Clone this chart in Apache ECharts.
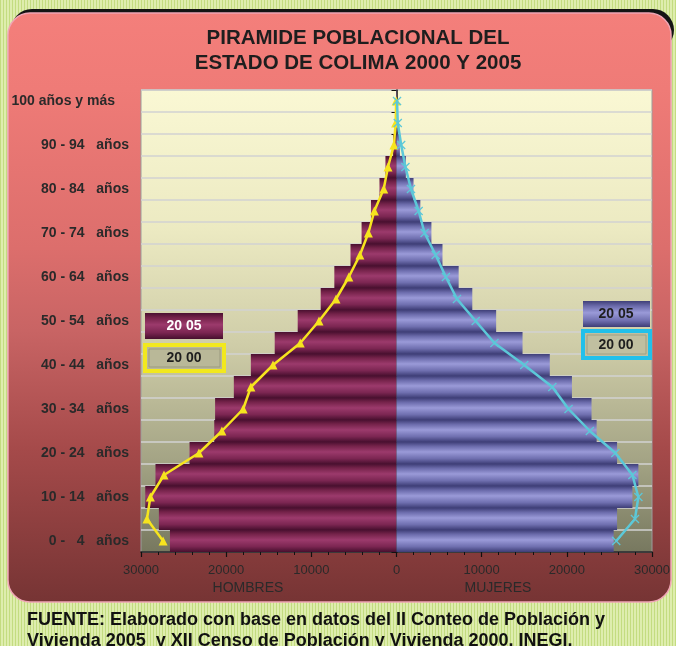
<!DOCTYPE html>
<html>
<head>
<meta charset="utf-8">
<script src="https://cdn.jsdelivr.net/npm/echarts@6/dist/echarts.min.js"></script>
<style>
html,body{margin:0;padding:0;width:676px;height:646px;overflow:hidden;
background:repeating-linear-gradient(90deg,#c3dc80 0px,#c3dc80 1px,#deedae 1px,#deedae 3px);}
#chart{width:676px;height:646px;}
</style>
</head>
<body>
<div id="chart"></div>
<script>
// ---- data ----
var categories = ['0 -   4   años','5 -   9   años','10 - 14   años','15 - 19   años','20 - 24   años',
  '25 - 29   años','30 - 34   años','35 - 39   años','40 - 44   años','45 - 49   años','50 - 54   años',
  '55 - 59   años','60 - 64   años','65 - 69   años','70 - 74   años','75 - 79   años','80 - 84   años',
  '85 - 89   años','90 - 94   años','95 - 99   años','100 años y más'];
var hombres2005 = [26600,27900,29500,28300,24300,21400,21300,19100,17100,14300,11600,8900,7300,5400,4100,3000,2000,1300,400,100,30];
var mujeres2005 = [25500,25900,27700,28400,25900,23500,22900,20600,18000,14800,11700,8900,7300,5400,4100,2800,2000,1100,400,120,40];
var hombres2000 = [27400,29300,28900,27300,23200,20500,18000,17100,14500,11300,9100,7100,5600,4300,3300,2600,1500,1000,300,100,40];
var mujeres2000 = [25800,28000,28400,27700,25700,22700,20200,18300,15000,11500,9300,7100,5800,4600,3300,2600,1700,1050,550,150,60];
var xTickLabels = {'-30000':'30000','-20000':'20000','-10000':'10000','0':'0','10000':'10000','20000':'20000','30000':'30000'};
var titleLines = ['PIRAMIDE POBLACIONAL DEL','ESTADO DE COLIMA 2000 Y 2005'];
var axisNames = ['HOMBRES','MUJERES'];
var legendLabels = ['20 05','20 00'];
var sourceLines = ['FUENTE: Elaborado con base en datos del II Conteo de Población y',
  'Vivienda 2005  y XII Censo de Población y Vivienda 2000. INEGI.'];

var chart = echarts.init(document.getElementById('chart'));
var FONT = '"Liberation Sans", Arial, sans-serif';
function vgrad(stops){return {type:'linear',x:0,y:0,x2:0,y2:1,colorStops:stops.map(function(s){return {offset:s[0],color:s[1]};})};}
var maroon = vgrad([[0,'#4a1030'],[0.18,'#742249'],[0.45,'#9c3a6c'],[0.75,'#7c2652'],[1,'#470f2e']]);
var lavender = vgrad([[0,'#3f3f78'],[0.2,'#6c6cac'],[0.45,'#9a9ad8'],[0.75,'#7070b0'],[1,'#3d3d76']]);
var xMark = 'path://M0,1L1,0L5,4L9,0L10,1L6,5L10,9L9,10L5,6L1,10L0,9L4,5Z';

var option = {
  backgroundColor: 'transparent',
  animation: false,
  graphic: [
    {type:'rect', z:-20, shape:{x:11,y:9,width:663,height:42,r:22}, style:{fill:'#141414'}},
    {type:'rect', z:-19, shape:{x:8,y:13,width:663,height:589,r:22},
      style:{fill:{type:'linear',x:0,y:0,x2:0,y2:1,colorStops:[
        {offset:0,color:'#f47f7b'},{offset:0.13,color:'#ef7b77'},{offset:0.4,color:'#dc6e6c'},
        {offset:0.54,color:'#c86464'},{offset:0.74,color:'#a54a4a'},{offset:1,color:'#763434'}]},
        stroke:'#f0a4b4', lineWidth:1.5}},
    {type:'text', z:10, x:358, y:38, style:{text:titleLines[0], font:'bold 20.5px '+FONT, fill:'#1e1e1e', textAlign:'center', textVerticalAlign:'middle'}},
    {type:'text', z:10, x:358, y:63, style:{text:titleLines[1], font:'bold 20.5px '+FONT, fill:'#1e1e1e', textAlign:'center', textVerticalAlign:'middle'}},
    {type:'text', z:10, x:248, y:588, style:{text:axisNames[0], font:'14px '+FONT, fill:'#2a2a2a', textAlign:'center', textVerticalAlign:'middle'}},
    {type:'text', z:10, x:498, y:588, style:{text:axisNames[1], font:'14px '+FONT, fill:'#2a2a2a', textAlign:'center', textVerticalAlign:'middle'}},
    // legend boxes left
    {type:'rect', z:50, shape:{x:145,y:313,width:78,height:26}, style:{fill:maroon}},
    {type:'text', z:51, x:184, y:326, style:{text:legendLabels[0], font:'bold 14px '+FONT, fill:'#ffffff', textAlign:'center', textVerticalAlign:'middle'}},
    {type:'rect', z:50, shape:{x:145,y:345,width:79,height:26}, style:{fill:'#b9b898', stroke:'#f2e81e', lineWidth:4}},
    {type:'rect', z:50, shape:{x:149,y:349,width:71,height:18}, style:{fill:'none', stroke:'#9a9a80', lineWidth:1}},
    {type:'text', z:51, x:184, y:358, style:{text:legendLabels[1], font:'bold 14px '+FONT, fill:'#1e1e1e', textAlign:'center', textVerticalAlign:'middle'}},
    // legend boxes right
    {type:'rect', z:50, shape:{x:583,y:301,width:67,height:26}, style:{fill:lavender}},
    {type:'text', z:51, x:616, y:314, style:{text:legendLabels[0], font:'bold 14px '+FONT, fill:'#1e1e1e', textAlign:'center', textVerticalAlign:'middle'}},
    {type:'rect', z:50, shape:{x:583,y:331,width:67,height:27}, style:{fill:'#c0bfa0', stroke:'#22c0ea', lineWidth:4}},
    {type:'rect', z:50, shape:{x:587,y:335,width:59,height:19}, style:{fill:'none', stroke:'#a0a084', lineWidth:1}},
    {type:'text', z:51, x:616, y:345, style:{text:legendLabels[1], font:'bold 14px '+FONT, fill:'#1e1e1e', textAlign:'center', textVerticalAlign:'middle'}},
    // source
    {type:'text', z:10, x:27, y:620, style:{text:sourceLines[0], font:'bold 18px '+FONT, fill:'#111', textAlign:'left', textVerticalAlign:'middle'}},
    {type:'text', z:10, x:27, y:641, style:{text:sourceLines[1], font:'bold 18px '+FONT, fill:'#111', textAlign:'left', textVerticalAlign:'middle'}}
  ],
  grid: {left:141, right:24, top:90, bottom:94, show:true, borderColor:'#9c9c9c', borderWidth:1,
    backgroundColor:{type:'linear',x:0,y:0,x2:0,y2:1,colorStops:[
      {offset:0,color:'#faf8d4'},{offset:0.3,color:'#eceac2'},{offset:0.55,color:'#cfcda8'},
      {offset:0.8,color:'#a4a485'},{offset:1,color:'#77785f'}]}},
  xAxis: {type:'value', min:-30000, max:30000, interval:10000,
    axisLine:{show:true, onZero:false, lineStyle:{color:'#111', width:1.5}},
    axisTick:{show:true, length:5, lineStyle:{color:'#111', width:1.2}},
    minorTick:{show:true, splitNumber:5, length:3, lineStyle:{color:'#111', width:1}},
    splitLine:{show:false},
    axisLabel:{margin:12, fontSize:13, fontFamily:FONT, color:'#2a2a2a',
      formatter:function(v){return xTickLabels[String(v)];}}},
  yAxis: [
    {type:'category', data:categories, position:'left',
      axisLine:{show:false, onZero:false}, axisTick:{show:false},
      splitLine:{show:true, interval:0, lineStyle:{color:'#d2d2d2', width:1.5}},
      axisLabel:{interval:1, margin:12, fontSize:14, fontWeight:'bold', fontFamily:FONT, color:'#2a2a2a',
        formatter:function(v){return v===categories[20] ? '{a|'+v+'}' : v;},
        rich:{a:{padding:[0,14,0,0], fontSize:14, fontWeight:'bold', fontFamily:FONT, color:'#2a2a2a'}}}},
    {type:'category', data:categories, position:'right',
      axisLine:{show:true, onZero:true, lineStyle:{color:'#111', width:1.5}},
      axisTick:{show:true, inside:true, length:5, interval:0, lineStyle:{color:'#111'}},
      axisLabel:{show:false}, splitLine:{show:false}}
  ],
  series: [
    {name:'Hombres 2005', type:'bar', yAxisIndex:0, barGap:'-100%', barCategoryGap:'0%',
      data:hombres2005.map(function(v){return -v;}), itemStyle:{color:maroon}, z:2},
    {name:'Mujeres 2005', type:'bar', yAxisIndex:0, barGap:'-100%', barCategoryGap:'0%',
      data:mujeres2005, itemStyle:{color:lavender}, z:2},
    {name:'Hombres 2000', type:'line', yAxisIndex:0, data:hombres2000.map(function(v){return -v;}),
      symbol:'triangle', symbolSize:9, lineStyle:{color:'#f6e41e', width:2.5}, itemStyle:{color:'#f6e41e'}, z:5},
    {name:'Mujeres 2000', type:'line', yAxisIndex:0, data:mujeres2000,
      symbol:xMark, symbolSize:9, lineStyle:{color:'#5cc8d8', width:2.5}, itemStyle:{color:'#5cc8d8'}, z:6}
  ]
};
chart.setOption(option);
</script>
</body>
</html>
